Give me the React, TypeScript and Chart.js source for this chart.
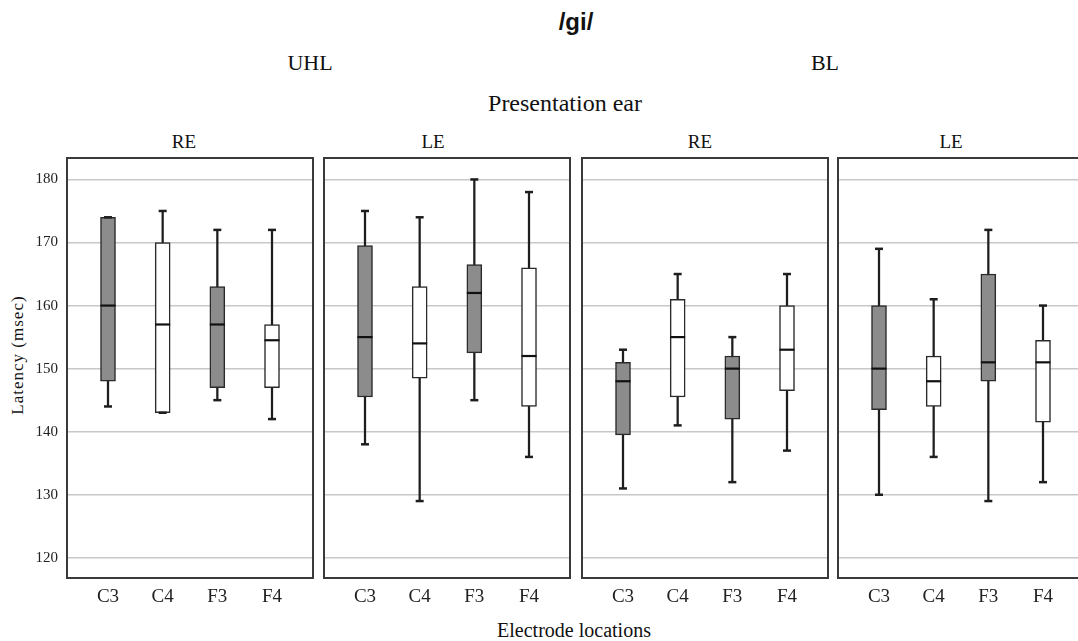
import React, { useEffect, useRef } from 'react';
import { Chart, registerables } from 'chart.js';

Chart.register(...registerables);

// ---------- data ----------
const electrodes = ['C3', 'C4', 'F3', 'F4'];
const panelTitles = ['RE', 'LE', 'RE', 'LE'];
const groupTitles = ['UHL', 'BL'];
const yTicks = [120, 130, 140, 150, 160, 170, 180];
const boxFills = ['#8c8c8c', '#ffffff', '#8c8c8c', '#ffffff'];

// UHL, right ear
const uhlReMin = [144, 143, 145, 142];
const uhlReQ1 = [148, 143, 147, 147];
const uhlReMed = [160, 157, 157, 154.5];
const uhlReQ3 = [174, 170, 163, 157];
const uhlReMax = [174, 175, 172, 172];

// UHL, left ear
const uhlLeMin = [138, 129, 145, 136];
const uhlLeQ1 = [145.5, 148.5, 152.5, 144];
const uhlLeMed = [155, 154, 162, 152];
const uhlLeQ3 = [169.5, 163, 166.5, 166];
const uhlLeMax = [175, 174, 180, 178];

// BL, right ear
const blReMin = [131, 141, 132, 137];
const blReQ1 = [139.5, 145.5, 142, 146.5];
const blReMed = [148, 155, 150, 153];
const blReQ3 = [151, 161, 152, 160];
const blReMax = [153, 165, 155, 165];

// BL, left ear
const blLeMin = [130, 136, 129, 132];
const blLeQ1 = [143.5, 144, 148, 141.5];
const blLeMed = [150, 148, 151, 151];
const blLeQ3 = [160, 152, 165, 154.5];
const blLeMax = [169, 161, 172, 160];

const panelStats = [
  { min: uhlReMin, q1: uhlReQ1, med: uhlReMed, q3: uhlReQ3, max: uhlReMax },
  { min: uhlLeMin, q1: uhlLeQ1, med: uhlLeMed, q3: uhlLeQ3, max: uhlLeMax },
  { min: blReMin, q1: blReQ1, med: blReMed, q3: blReQ3, max: blReMax },
  { min: blLeMin, q1: blLeQ1, med: blLeMed, q3: blLeQ3, max: blLeMax },
];

// ---------- layout ----------
const PANEL_LEFT = [67, 324, 582, 838];
const PANEL_W = 246;
const PANEL_TOP = 158;
const PANEL_H = 420;
const PAD = 2;
const X_AXIS_H = 60;
const Y_AXIS_W = 67;
const TITLE_X = [184, 433, 700, 951];

const SERIF = '"Liberation Serif", "Times New Roman", serif';

const borderPlugin = {
  id: 'panelBorder',
  afterDraw(chart: any) {
    const { ctx, chartArea } = chart;
    ctx.save();
    ctx.strokeStyle = '#3a3a3a';
    ctx.lineWidth = 2;
    ctx.strokeRect(chartArea.left, chartArea.top, chartArea.right - chartArea.left, chartArea.bottom - chartArea.top);
    ctx.restore();
  },
};

function zeroPad(sc: any) {
  sc.paddingTop = 0;
  sc.paddingBottom = 0;
  sc.paddingLeft = 0;
  sc.paddingRight = 0;
}

function Panel({ idx }: { idx: number }) {
  const ref = useRef<HTMLCanvasElement>(null);
  const first = idx === 0;
  const canvasLeft = first ? 0 : PANEL_LEFT[idx] - PAD;
  const canvasW = first ? Y_AXIS_W + PANEL_W + PAD : PANEL_W + PAD * 2;
  const canvasH = PAD + PANEL_H + X_AXIS_H;

  useEffect(() => {
    const s = panelStats[idx];
    const xs = [0, 1, 2, 3];
    const chart = new Chart(ref.current as HTMLCanvasElement, {
      type: 'bar',
      data: {
        datasets: [
          {
            type: 'bar',
            data: xs.map((i) => ({ x: i, y: [s.min[i], s.max[i]] })),
            backgroundColor: '#1e1e1e',
            barThickness: 1.6,
            grouped: false,
            order: 3,
          } as any,
          {
            type: 'bar',
            data: xs.map((i) => ({ x: i, y: [s.q1[i], s.q3[i]] })),
            backgroundColor: boxFills,
            borderColor: '#2a2a2a',
            borderWidth: 1.5,
            borderSkipped: false,
            barThickness: 15,
            grouped: false,
            order: 2,
          } as any,
          {
            type: 'line',
            data: xs.flatMap((i) => [
              { x: i, y: s.min[i] },
              { x: i, y: s.max[i] },
            ]),
            showLine: false,
            pointStyle: 'line',
            pointRadius: 4,
            pointBorderColor: '#1e1e1e',
            pointBorderWidth: 2.5,
            order: 1,
          } as any,
          {
            type: 'line',
            data: xs.map((i) => ({ x: i, y: s.med[i] })),
            showLine: false,
            pointStyle: 'line',
            pointRadius: 7.5,
            pointBorderColor: '#111111',
            pointBorderWidth: 2.2,
            order: 0,
          } as any,
        ],
      },
      options: {
        responsive: false,
        animation: false,
        devicePixelRatio: 1,
        layout: { autoPadding: false, padding: { left: first ? 0 : PAD, right: PAD, top: PAD, bottom: 0 } },
        plugins: { legend: { display: false }, tooltip: { enabled: false }, title: { display: false } },
        scales: {
          x: {
            type: 'linear',
            offset: false,
            min: -0.75,
            max: 3.75,
            afterBuildTicks: (sc: any) => {
              sc.ticks = xs.map((v) => ({ value: v }));
            },
            afterFit: (sc: any) => {
              sc.height = X_AXIS_H;
              zeroPad(sc);
            },
            ticks: {
              callback: (v: any) => electrodes[v as number],
              font: { family: SERIF, size: 19 },
              color: '#222',
              padding: 8,
              maxRotation: 0,
              autoSkip: false,
            },
            grid: { display: false, drawTicks: false, offset: false },
            border: { display: false },
          },
          y: {
            min: 116.8,
            max: 183.4,
            afterBuildTicks: (sc: any) => {
              sc.ticks = yTicks.map((v) => ({ value: v }));
            },
            afterFit: (sc: any) => {
              sc.width = first ? Y_AXIS_W : 0;
              zeroPad(sc);
            },
            ticks: {
              display: first,
              font: { family: SERIF, size: 15 },
              color: '#222',
              padding: 9,
            },
            grid: { color: '#c8c8c8', lineWidth: 1.5, drawTicks: false },
            border: { display: false },
          },
        },
      } as any,
      plugins: [borderPlugin],
    });
    return () => chart.destroy();
  }, [idx]);

  return (
    <canvas
      ref={ref}
      width={canvasW}
      height={canvasH}
      style={{ position: 'absolute', left: canvasLeft, top: PANEL_TOP - PAD, width: canvasW, height: canvasH }}
    />
  );
}

function Label({ text, cx, top, size, family = SERIF, weight = 'normal', extra = {} }: any) {
  return (
    <div
      style={{
        position: 'absolute',
        left: cx,
        top,
        transform: 'translateX(-50%)',
        fontFamily: family,
        fontSize: size,
        fontWeight: weight,
        lineHeight: `${size}px`,
        whiteSpace: 'nowrap',
        color: '#111',
        ...extra,
      }}
    >
      {text}
    </div>
  );
}

export default function App() {
  return (
    <div
      style={{
        position: 'fixed',
        left: 0,
        top: 0,
        width: 1078,
        height: 641,
        overflow: 'hidden',
        background: '#ffffff',
      }}
    >
      <Label text="/gi/" cx={576} top={10} size={24} family='"Liberation Sans", Arial, sans-serif' weight="bold" />
      <Label text={groupTitles[0]} cx={310} top={52} size={22} />
      <Label text={groupTitles[1]} cx={825} top={52} size={22} />
      <Label text="Presentation ear" cx={565} top={91} size={24} />
      {panelTitles.map((t, i) => (
        <Label key={i} text={t} cx={TITLE_X[i]} top={132} size={19} />
      ))}
      <div
        style={{
          position: 'absolute',
          left: 17,
          top: 355,
          transform: 'translate(-50%, -50%) rotate(-90deg)',
          fontFamily: SERIF,
          fontSize: 17,
          lineHeight: '17px',
          letterSpacing: '1px',
          whiteSpace: 'nowrap',
          color: '#111',
        }}
      >
        Latency (msec)
      </div>
      <Label text="Electrode locations" cx={574} top={620} size={20} />
      {[0, 1, 2, 3].map((i) => (
        <Panel key={i} idx={i} />
      ))}
    </div>
  );
}
